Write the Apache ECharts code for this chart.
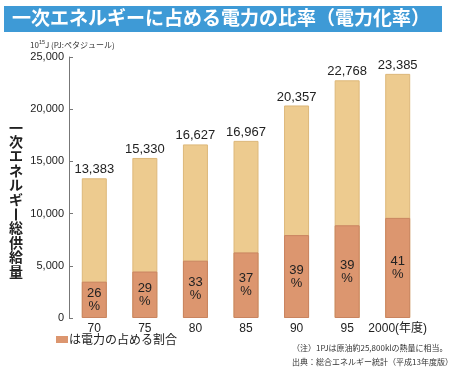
<!DOCTYPE html>
<html><head><meta charset="utf-8">
<script src="https://cdn.jsdelivr.net/npm/echarts@6/dist/echarts.min.js"></script>
<style>html,body{margin:0;padding:0;background:#fff}#c{width:451px;height:373px}</style>
</head><body><div id="c"></div>
<script>
const categories = ['70','75','80','85','90','95','2000(年度)'];
const totals = [13383, 15330, 16627, 16967, 20357, 22768, 23385];
const electric = [3480, 4450, 5490, 6280, 7940, 8880, 9590];
const shares = [26, 29, 33, 37, 39, 39, 41];
const yTicks = [0, 5000, 10000, 15000, 20000, 25000];

const fmt = v => v.toLocaleString('en-US');
const chart = echarts.init(document.getElementById('c'));
const F = '"Liberation Sans", Arial, sans-serif';
const J = '"Noto Sans CJK JP", sans-serif';
chart.setOption({
  animation: false,
  grid: {left: 69, right: 28, top: 57, bottom: 55},
  xAxis: {
    type: 'category', data: categories,
    axisLine: {show: false}, axisTick: {show: false},
    axisLabel: {interval: 0, color: '#222', fontSize: 12, fontFamily: F + ',' + J, margin: 5, hideOverlap: false}
  },
  yAxis: {
    type: 'value', min: yTicks[0], max: yTicks[yTicks.length-1], interval: 5000,
    axisLine: {show: true, lineStyle: {color: '#777', width: 1}},
    axisTick: {show: true, inside: true, length: 4, lineStyle: {color: '#777'}},
    splitLine: {show: false},
    axisLabel: {color: '#222', fontSize: 11, fontFamily: F, margin: 5, formatter: v => fmt(v)}
  },
  series: [
    {
      type: 'bar', data: totals, barWidth: 25, barGap: '-100%',
      itemStyle: {color: '#EDCB8F', borderColor: '#DDB87A', borderWidth: 1},
      label: {show: true, position: 'top', distance: 2, color: '#222', fontSize: 13, fontFamily: F,
        formatter: p => fmt(p.value)}
    },
    {
      type: 'bar', data: electric, barWidth: 25,
      itemStyle: {color: '#DC966F', borderColor: '#C98460', borderWidth: 1},
      label: {show: true, position: 'inside', color: '#222', fontSize: 13, lineHeight: 13, fontFamily: F,
        formatter: p => shares[p.dataIndex] + '\n%'}
    }
  ],
  graphic: [
    {type: 'rect', shape: {x: 4, y: 6, width: 438, height: 26}, style: {fill: '#3E9AD6'}},
    {type: 'text', left: 12, top: 8, style: {text: '一次エネルギーに占める電力の比率（電力化率）', fill: '#fff',
      font: 'bold 19px "Noto Sans CJK JP"'}},
    {type: 'text', left: 30, top: 39, style: {
      text: '{a|10}{s|15}{a|J (PJ:ペタジュール)}',
      rich: {a: {fontSize: 8, fontFamily: J, fill: '#333', verticalAlign: 'bottom'},
             s: {fontSize: 5.5, fontFamily: F, fill: '#333', verticalAlign: 'top', padding: [0,0,4,0]}}
    }},
    {type: 'text', left: 9, top: 120, style: {
      text: ['一','次','エ','ネ','ル','ギ','　','総','供','給','量'].join('\n'),
      font: 'bold 14px "Noto Sans CJK JP"', lineHeight: 14.4, fill: '#222', align: 'left'}},
    {type: 'rect', shape: {x: 15, y: 208.5, width: 2, height: 12}, style: {fill: '#222'}},
    {type: 'rect', shape: {x: 56, y: 336, width: 12, height: 7}, style: {fill: '#DC966F'}},
    {type: 'text', left: 69, top: 333, style: {text: 'は電力の占める割合', font: '12px "Noto Sans CJK JP"', fill: '#222'}},
    {type: 'text', left: 292, top: 344, style: {text: '（注）1PJは原油約25,800klの熱量に相当。', font: '8px "Noto Sans CJK JP"', fill: '#333'}},
    {type: 'text', left: 292, top: 358, style: {text: '出典：総合エネルギー統計（平成13年度版）', font: '8px "Noto Sans CJK JP"', fill: '#333'}}
  ]
});
</script></body></html>
